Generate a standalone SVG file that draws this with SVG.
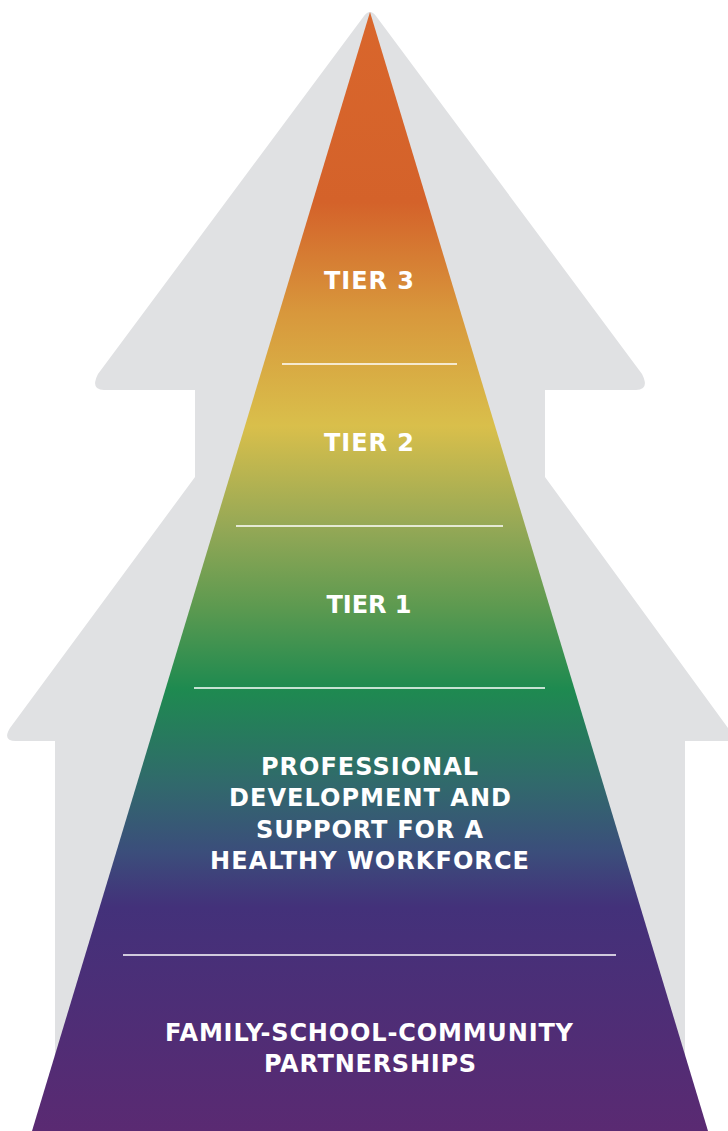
<svg xmlns="http://www.w3.org/2000/svg" width="728" height="1131" viewBox="0 0 728 1131">
<style>
.lbl{font-family:"DejaVu Sans","Liberation Sans",sans-serif;font-weight:bold;font-size:24px;fill:#ffffff;text-anchor:middle}
.div{stroke:#ffffff;stroke-width:1.5}
</style>
<defs>
<linearGradient id="pg" x1="0" y1="12" x2="0" y2="1131" gradientUnits="userSpaceOnUse">
<stop offset="0" stop-color="#D9662C"/>
<stop offset="0.17" stop-color="#D4622A"/>
<stop offset="0.27" stop-color="#D8983C"/>
<stop offset="0.37" stop-color="#D9BF4B"/>
<stop offset="0.46" stop-color="#95A856"/>
<stop offset="0.53" stop-color="#5E9A50"/>
<stop offset="0.605" stop-color="#1E8A50"/>
<stop offset="0.69" stop-color="#31696C"/>
<stop offset="0.75" stop-color="#3B4E7B"/>
<stop offset="0.80" stop-color="#43317A"/>
<stop offset="1" stop-color="#5A2A72"/>
</linearGradient>
</defs>
<g id="house">
<path fill="#E0E1E3" d="M364,16 Q370,8 376,16 L642,374 Q650,390 636,390 L545,390 L545,477 L728,728 L728,741 L685,741 L685,1131 L55,1131 L55,741 L16,741 Q2,741 10,728 L195,477 L195,390 L104,390 Q90,390 98,374 Z"/>
</g>
<g id="pyramid">
<polygon fill="url(#pg)" points="370,12 708,1131 32,1131"/>
</g>
<g id="connectors">
<line class="div" x1="282" y1="364" x2="457" y2="364"/>
<line class="div" x1="236" y1="526" x2="503" y2="526"/>
<line class="div" x1="194" y1="688" x2="545" y2="688"/>
<line class="div" x1="123" y1="955" x2="616" y2="955"/>
</g>
<g id="tier3"><text class="lbl" x="369" y="289" textLength="90" lengthAdjust="spacing">TIER 3</text></g>
<g id="tier2"><text class="lbl" x="369" y="451" textLength="90" lengthAdjust="spacing">TIER 2</text></g>
<g id="tier1"><text class="lbl" x="369" y="613" textLength="85" lengthAdjust="spacing">TIER 1</text></g>
<g id="pd">
<text class="lbl" x="369.5" y="775" textLength="217" lengthAdjust="spacing">PROFESSIONAL</text>
<text class="lbl" x="370" y="806" textLength="282" lengthAdjust="spacing">DEVELOPMENT AND</text>
<text class="lbl" x="369.5" y="838" textLength="227" lengthAdjust="spacing">SUPPORT FOR A</text>
<text class="lbl" x="369.5" y="869" textLength="319" lengthAdjust="spacing">HEALTHY WORKFORCE</text>
</g>
<g id="fsc">
<text class="lbl" x="369" y="1041" textLength="408" lengthAdjust="spacing">FAMILY-SCHOOL-COMMUNITY</text>
<text class="lbl" x="370" y="1072" textLength="212" lengthAdjust="spacing">PARTNERSHIPS</text>
</g>
</svg>
